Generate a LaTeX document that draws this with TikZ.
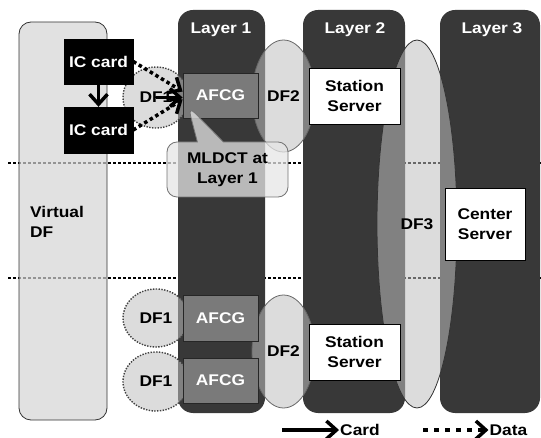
\documentclass[tikz,border=0pt]{standalone}
\usepackage{fontspec}
\setmainfont[FakeStretch=1.12]{Liberation Sans}
\usetikzlibrary{arrows.meta,shapes.geometric,shapes.callouts}

\definecolor{layergray}{RGB}{56,56,56}
\definecolor{afcggray}{RGB}{122,122,122}

\begin{document}
\begin{tikzpicture}
[x=1pt, y=-1pt, font=\fontsize{15.5}{20}\selectfont\bfseries,
% STYLES
% The layer style is used to draw the dark columns of the layers
layer/.style={rectangle, rounded corners=15pt, fill=layergray, inner sep=0pt, minimum height=403pt},
title/.style={text=white, inner sep=1pt},
% The df style is used to draw the grey data fields
df/.style={ellipse, fill=black!25, fill opacity=0.54, text opacity=1, draw=black!60, line width=0.8pt, inner sep=0pt},
dfdot/.style={df, draw=black!75, line width=1.4pt, dash pattern=on 1.4pt off 1.4pt},
% The box styles are used to draw the devices
card/.style={rectangle, fill=black, draw=black, text=white, minimum width=69pt, minimum height=45pt, inner sep=0pt},
afcg/.style={rectangle, fill=afcggray, draw=black!85, line width=0.8pt, text=white, minimum width=75pt, minimum height=45pt, inner sep=0pt},
server/.style={rectangle, fill=white, draw=black, line width=0.8pt, align=center, inner sep=0pt},
note/.style={rectangle callout, rounded corners=10pt, fill=black!10, fill opacity=0.75, text opacity=1, draw=black!55, line width=0.8pt, align=center, minimum width=121pt, minimum height=55pt, inner sep=0pt, callout pointer width=26pt},
% The link styles are used to draw the card and data flows
cardflow/.style={line width=3.5pt, -{Straight Barb[length=10pt, width=18pt]}},
dataflow/.style={line width=3.5pt, dash pattern=on 3.5pt off 3pt, -{Straight Barb[length=10pt, width=18pt]}},
sepline/.style={line width=2.5pt, dash pattern=on 2.5pt off 2.5pt},
legend/.style={inner sep=1pt}]

\useasboundingbox (0,0) rectangle (541,438);

% Draw the separators
\draw[sepline] (8,163) -- (541,163);
\draw[sepline] (8,278) -- (541,278);

% Draw the virtual DF
\node[rectangle, rounded corners=12pt, fill=black!17, fill opacity=0.7, draw=black!80, line width=0.8pt, minimum width=88pt, minimum height=398pt] (virtual) at (63,221) {};
\node[align=left, anchor=west, inner sep=0pt] (virtuallbl) at (30,222) {Virtual\\DF};

% Draw the layers
\node[layer, minimum width=87pt] (layer1) at (221.5,211.5) {};
\node[layer, minimum width=102pt] (layer2) at (354,211.5) {};
\node[layer, minimum width=100pt] (layer3) at (490,211.5) {};
\node[title] (title1) at (221,30) {Layer 1};
\node[title] (title2) at (355,30) {Layer 2};
\node[title] (title3) at (492,30) {Layer 3};

% Draw the data fields
\node[dfdot, minimum width=66pt, minimum height=61pt] (df1a) at (156,97.5) {DF1};
\node[dfdot, minimum width=66pt, minimum height=58pt] (df1b) at (156,318) {DF1};
\node[dfdot, minimum width=66pt, minimum height=59pt] (df1c) at (156,381.5) {DF1};
\node[df, minimum width=63pt, minimum height=112pt] (df2a) at (283.5,96) {DF2};
\node[df, minimum width=63pt, minimum height=113pt] (df2b) at (283.5,351.5) {DF2};
\node[df, draw=black!80, minimum width=80pt, minimum height=368pt] (df3) at (417,224) {DF3};

% Draw the devices
\node[card] (iccard1) at (98.5,61.5) {IC card};
\node[card, minimum height=46pt] (iccard2) at (98.5,130) {IC card};
\node[afcg] (afcg1) at (220.5,95.5) {AFCG};
\node[afcg, minimum height=46pt] (afcg2) at (220.5,318) {AFCG};
\node[afcg] (afcg3) at (220.5,380.5) {AFCG};
\node[server, minimum width=91pt, minimum height=56pt] (station1) at (354.5,96) {Station\\Server};
\node[server, minimum width=91pt, minimum height=56pt] (station2) at (354.5,352) {Station\\Server};
\node[server, minimum width=80pt, minimum height=72pt] (center) at (485,224) {Center\\Server};

% Draw the links
\path[cardflow] (iccard1) edge (iccard2);
\path[cardflow] (df1a.center) edge (df1a.center -| afcg1.west);
\path[dataflow] (iccard1.east) edge ([yshift=4pt]afcg1.west);
\path[dataflow] (iccard2.east) edge ([yshift=-4pt]afcg1.west);

% Draw the note
\coordinate (tip) at (188,106);
\node[note, callout absolute pointer={(tip)}] (mldct) at (227.5,169.5) {MLDCT at\\Layer 1};

% Draw the legend
\coordinate (cardstart) at (282,430);
\coordinate (datastart) at (423,430);
\node[legend] (cardlbl) at (360,430) {Card};
\node[legend] (datalbl) at (508.5,430) {Data};
\path[cardflow] (cardstart) edge (cardlbl.west);
\path[dataflow, dash pattern=on 5pt off 6pt] (datastart) edge (datalbl.west);

\end{tikzpicture}
\end{document}
